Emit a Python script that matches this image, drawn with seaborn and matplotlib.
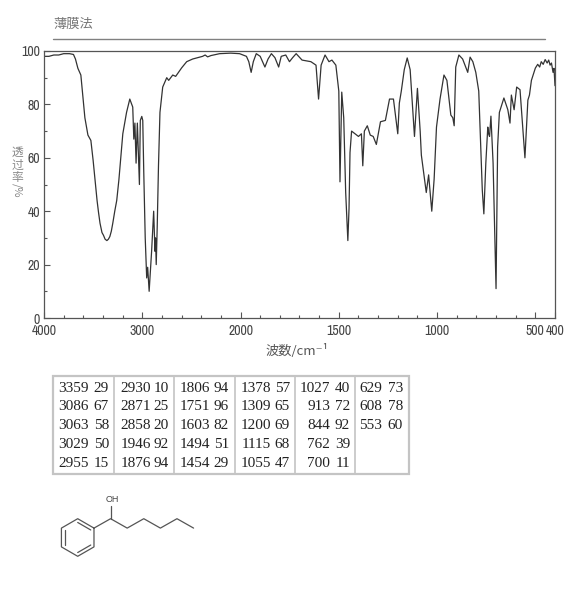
import numpy as np
import pandas as pd
import matplotlib
matplotlib.use("Agg")
import matplotlib.pyplot as plt
from matplotlib import font_manager
from matplotlib.ticker import FixedLocator, FixedFormatter
import seaborn as sns

# spectrum
wavenumber = [4000, 3950, 3900, 3850, 3800, 3740, 3700, 3680, 3655, 3625, 3584, 3553, 3523, 3500,
              3460, 3445, 3430, 3410, 3395, 3378, 3360, 3345, 3330, 3315, 3300, 3280, 3260, 3238,
              3198, 3160, 3127, 3097, 3086, 3075,
              3063, 3050, 3029, 3020, 3005, 2995, 2985, 2970, 2955, 2945, 2930, 2905, 2884, 2871,
              2865, 2858, 2848, 2835, 2820, 2792, 2751, 2731, 2690, 2660, 2599, 2548, 2487, 2386,
              2360, 2335, 2300, 2213, 2100, 2010, 1970, 1958, 1946, 1935, 1920, 1900, 1876, 1860,
              1843, 1825, 1806, 1793, 1770, 1751, 1735,
              1717, 1687, 1642, 1616, 1603, 1590, 1570, 1550, 1535, 1515, 1500, 1494, 1485, 1475,
              1465, 1454, 1448, 1443, 1435, 1400, 1385, 1378, 1370, 1355, 1340, 1325, 1309, 1288,
              1263, 1242, 1222, 1200, 1192, 1182, 1167, 1152, 1137, 1115, 1100, 1086, 1080, 1066,
              1055, 1043, 1027, 1015, 1003, 985, 965, 950, 930, 920, 913, 905, 889, 870, 844, 832,
              818, 803, 788, 778, 770, 762, 752, 742, 738, 733, 726, 715, 700, 692, 683, 660, 640,
              629, 622, 608, 595, 578, 553, 538, 530, 520, 500, 488, 478, 470, 460, 450, 440, 432,
              425, 418, 410, 405, 400]
transmittance = [98, 98, 98.5, 98.5, 99, 99, 98.7, 97, 93.5, 91, 75, 68.5, 66.5, 59,
                 44, 39.5, 35.5, 32, 31, 29.5, 29, 29.5, 30.5, 32.5, 35.5, 40, 44, 51.7,
                 69, 77, 82, 79, 67, 73,
                 58, 73, 50, 74, 75.5, 74, 55, 30, 15, 19, 10, 25, 40, 25,
                 30, 20, 34, 57, 77, 86.5, 90, 89, 91, 90.5, 93.7, 96, 97, 98,
                 98.5, 97.8, 98.3, 99, 99.2, 99, 98, 96, 92, 96, 99, 98, 94, 97,
                 99, 97.5, 94, 98, 98.5, 96, 97.5,
                 99, 96.6, 96, 94.7, 82, 94.7, 98.5, 96, 96.6, 94.7, 85, 51, 84.6, 75,
                 47, 29, 41, 62, 70, 68, 69, 57, 70, 72, 68.5, 68, 65, 73.5,
                 74, 82, 82, 69, 80.5, 85, 93, 97.4, 93, 68, 86, 70, 61, 53,
                 47, 53.6, 40, 52, 71.5, 82, 91, 89, 76, 75, 72, 94, 98.5, 97, 92, 97.7,
                 96, 92, 85, 64, 48, 39, 58, 71.5, 69, 68, 75.6, 58, 11, 64, 77, 82.4, 78,
                 73, 83.5, 78, 86.5, 85.5, 60, 81.6, 83.5, 89, 93.6, 95, 94, 96, 95, 96.8, 95.5, 96.6,
                 94.7, 95.5, 92, 93.5, 87]

x_major = [4000, 3000, 2000, 1500, 1000, 500, 400]
x_minor = [3800, 3600, 3400, 3200, 2800, 2600, 2400, 2200, 1900, 1800, 1700, 1600, 1400, 1300,
           1200, 1100, 900, 800, 700, 600]
y_major = [0, 20, 40, 60, 80, 100]
y_minor = [10, 30, 50, 70, 90]

peak_table = [["3359 29", "3086 67", "3063 58", "3029 50", "2955 15"],
              ["2930 10", "2871 25", "2858 20", "1946 92", "1876 94"],
              ["1806 94", "1751 96", "1603 82", "1494 51", "1454 29"],
              ["1378 57", "1309 65", "1200 69", "1115 68", "1055 47"],
              ["1027 40", "913 72", "844 92", "762 39", "700 11"],
              ["629 73", "608 78", "553 60"]]

sns.set_style("white")
names = {f.name for f in font_manager.fontManager.ttflist}
narrow, tick_size = "Liberation Sans", 9
for cand in ["Liberation Sans Narrow", "Archivo Narrow", "PT Sans Narrow", "Roboto Condensed"]:
    if cand in names:
        narrow, tick_size = cand, 10
        break
plt.rcParams["font.family"] = ["Noto Sans CJK JP", "DejaVu Sans"]

GRAY = "#555555"
W, H = 570, 610
fig = plt.figure(figsize=(W / 100, H / 100), dpi=100)
ax = fig.add_axes([44 / W, 1 - 318 / H, (555 - 44) / W, (318 - 51) / H])


def forward(v):
    v = np.asarray(v, dtype=float)
    return np.where(v > 2000, 2000 + (v - 2000) / 2, v)


def inverse(v):
    v = np.asarray(v, dtype=float)
    return np.where(v > 2000, 2000 + (v - 2000) * 2, v)


df = pd.DataFrame({"wn": wavenumber, "t": transmittance})
sns.lineplot(data=df, x="wn", y="t", sort=False, estimator=None, color="#333333", lw=0.9, ax=ax)
ax.set_xscale("function", functions=(forward, inverse))
ax.set_xlim(4000, 400)
ax.set_ylim(0, 100)
ax.set_xlabel("")
ax.set_ylabel("")
ax.xaxis.set_major_locator(FixedLocator(x_major))
ax.xaxis.set_major_formatter(FixedFormatter([str(v) for v in x_major]))
ax.xaxis.set_minor_locator(FixedLocator(x_minor))
ax.yaxis.set_major_locator(FixedLocator(y_major))
ax.yaxis.set_major_formatter(FixedFormatter([str(v) for v in y_major]))
ax.yaxis.set_minor_locator(FixedLocator(y_minor))
ax.tick_params(which="major", direction="in", length=4, width=0.8, color=GRAY, left=True, bottom=True,
               labelcolor="#444444", labelsize=tick_size, labelfontfamily=narrow, pad=3)
ax.tick_params(axis="x", which="major", pad=4)
ax.tick_params(which="minor", direction="in", length=2, width=0.8, color=GRAY, left=True, bottom=True)
for s in ax.spines.values():
    s.set_color(GRAY)
    s.set_linewidth(0.9)

# everything around the chart goes on an overlay in pixel coordinates
ov = fig.add_axes([0, 0, 1, 1], zorder=5)
ov.set_xlim(0, W)
ov.set_ylim(H, 0)
ov.axis("off")
ov.text(53, 24, "薄膜法", fontsize=9.5, color="#777777", va="center")
ov.plot([53, 545], [39, 39], color="#808080", lw=1)
ov.text(297, 351, "波数/cm⁻¹", fontsize=9.5, color="#555555", ha="center", va="center")
for ch, y in zip("透过率", [152, 165, 177]):
    ov.text(17, y, ch, fontsize=8.5, color="#888888", ha="center", va="center")
ov.text(17, 190, "/%", fontsize=8, color="#888888", rotation=-90, ha="center", va="center")

# peak table
col_edges = [54, 114, 174, 235, 295, 355, 408]
wn_right = [89, 151, 210, 271, 330, 382]
val_right = [109, 169, 229, 290, 350, 403]
top, bottom = 377, 473
ov.add_patch(plt.Rectangle((col_edges[0] - 1, top - 1), col_edges[-1] - col_edges[0] + 2, bottom - top + 2,
                           fc="white", ec="#c4c4c4", lw=1.6))
for e in col_edges[1:-1]:
    ov.plot([e, e], [top, bottom], color="#c4c4c4", lw=1.2)
for c, col in enumerate(peak_table):
    for r, cell in enumerate(col):
        wn, tr = cell.split()
        ov.text(wn_right[c], 388 + r * 18.8, wn, family="Liberation Serif", fontsize=11, ha="right", va="center",
                color="#222222")
        ov.text(val_right[c], 388 + r * 18.8, tr, family="Liberation Serif", fontsize=11, ha="right",
                va="center", color="#222222")

# 1-phenylhexan-1-ol
mol = dict(color="#555555", lw=0.9)
cx, cy, rad = 77.7, 537.5, 18.8
ang = np.deg2rad(np.arange(30, 390, 60))
ring_x = cx + rad * np.cos(ang)
ring_y = cy - rad * np.sin(ang)
ov.plot(np.r_[ring_x, ring_x[0]], np.r_[ring_y, ring_y[0]], **mol)
for i, j in [(0, 1), (2, 3), (4, 5)]:
    ov.plot(cx + 0.8 * rad * np.cos(ang[[i, j]]), cy - 0.8 * rad * np.sin(ang[[i, j]]), **mol)
chain_x = ring_x[0] + 16.6 * np.arange(7)
chain_y = ring_y[0] - 9.4 * (np.arange(7) % 2)
ov.plot(chain_x, chain_y, **mol)
ov.plot([chain_x[1], chain_x[1]], [chain_y[1], chain_y[1] - 13], **mol)
ov.text(chain_x[1] + 2, 499.5, "OH", family="Liberation Sans", fontsize=6.5, color="#444444", ha="center", va="center")

fig.savefig("out.png", dpi=100, facecolor="white")
